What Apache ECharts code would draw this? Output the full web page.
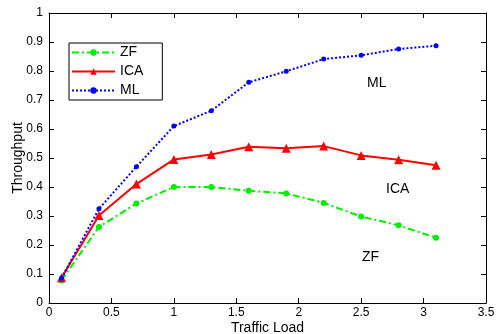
<!DOCTYPE html>
<html>
<head>
<meta charset="utf-8">
<script src="https://cdn.jsdelivr.net/npm/echarts@6/dist/echarts.min.js"></script>
<style>
html, body { margin: 0; padding: 0; background: #fff; }
#main { width: 497px; height: 334px; }
</style>
</head>
<body>
<div id="main"></div>
<script>
var load = [0.1, 0.4, 0.7, 1.0, 1.3, 1.6, 1.9, 2.2, 2.5, 2.8, 3.1];
var zf = [0.078, 0.262, 0.343, 0.400, 0.400, 0.387, 0.378, 0.345, 0.298, 0.268, 0.225];
var ica = [0.087, 0.302, 0.410, 0.495, 0.512, 0.539, 0.534, 0.541, 0.509, 0.494, 0.475];
var ml = [0.085, 0.325, 0.470, 0.610, 0.663, 0.761, 0.799, 0.841, 0.854, 0.876, 0.887];

function pairs(ys) {
    return load.map(function (x, i) { return [x, ys[i]]; });
}

var chart = echarts.init(document.getElementById('main'));
var font = 'Liberation Sans, Arial, sans-serif';

var axisBase = {
    axisLine: { show: true, onZero: false, lineStyle: { color: '#000', width: 1 } },
    axisTick: { show: true, inside: true, length: 5, lineStyle: { color: '#000' } },
    splitLine: { show: false }
};

var option = {
    animation: false,
    backgroundColor: '#fff',
    textStyle: { fontFamily: font },
    grid: { left: 49, right: 11, top: 13, bottom: 31, containLabel: false, outerBoundsMode: 'none' },
    legend: {
        orient: 'vertical',
        left: 69, top: 43,
        padding: [2, 19, 2, 2],
        itemGap: 4,
        itemWidth: 43,
        itemHeight: 8,
        borderColor: '#000',
        borderWidth: 1,
        backgroundColor: '#fff',
        textStyle: { fontSize: 14, color: '#000', fontFamily: font, lineHeight: 15 },
        data: ['ZF', 'ICA', 'ML']
    },
    xAxis: [
        Object.assign({
            type: 'value', min: 0, max: 3.5, interval: 0.5,
            name: 'Traffic Load', nameLocation: 'middle', nameGap: 18, nameMoveOverlap: false,
            nameTextStyle: { fontSize: 14, color: '#000', fontFamily: font },
            axisLabel: { fontSize: 12, color: '#000', margin: 4, fontFamily: font }
        }, axisBase),
        Object.assign({
            type: 'value', min: 0, max: 3.5, interval: 0.5, position: 'top',
            axisLabel: { show: false }
        }, axisBase)
    ],
    yAxis: [
        Object.assign({
            type: 'value', min: 0, max: 1, interval: 0.1,
            name: 'Throughput', nameLocation: 'middle', nameGap: 24, nameMoveOverlap: false,
            nameTextStyle: { fontSize: 14, color: '#000', fontFamily: font },
            axisLabel: { fontSize: 12, color: '#000', margin: 6, fontFamily: font }
        }, axisBase),
        Object.assign({
            type: 'value', min: 0, max: 1, interval: 0.1, position: 'right',
            axisLabel: { show: false }
        }, axisBase)
    ],
    series: [
        {
            name: 'ZF', type: 'line', data: pairs(zf),
            symbol: 'circle', symbolSize: 6,
            itemStyle: { color: '#00ee00' },
            lineStyle: { color: '#00ee00', width: 2, type: [7, 3, 2, 3] }
        },
        {
            name: 'ICA', type: 'line', data: pairs(ica),
            symbol: 'triangle', symbolSize: 9,
            itemStyle: { color: '#ff0000' },
            lineStyle: { color: '#ff0000', width: 2 }
        },
        {
            name: 'ML', type: 'line', data: pairs(ml),
            symbol: 'circle', symbolSize: 5,
            itemStyle: { color: '#0000ff' },
            lineStyle: { color: '#0000ff', width: 2, type: [2, 2] }
        }
    ],
    graphic: [
        { type: 'text', left: 367, top: 76, style: { text: 'ML', fontSize: 14, fill: '#000', fontFamily: font } },
        { type: 'text', left: 386, top: 182, style: { text: 'ICA', fontSize: 14, fill: '#000', fontFamily: font } },
        { type: 'text', left: 362, top: 250, style: { text: 'ZF', fontSize: 14, fill: '#000', fontFamily: font } }
    ]
};

chart.setOption(option);
</script>
</body>
</html>
